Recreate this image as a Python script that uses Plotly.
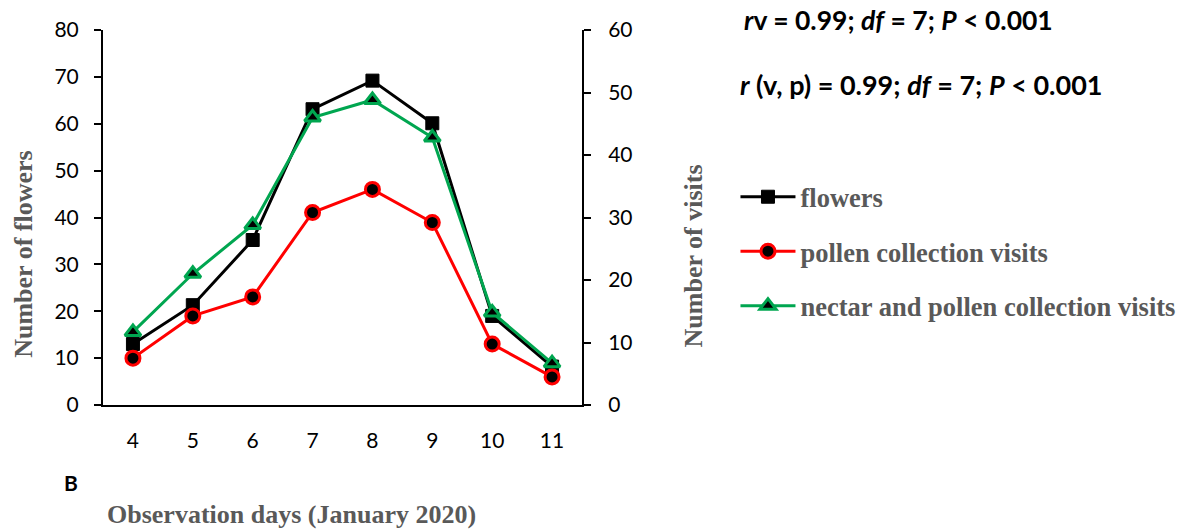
import plotly.graph_objects as go

days = [4, 5, 6, 7, 8, 9, 10, 11]
flowers = [13, 21.3, 35.2, 63.1, 69.2, 60.1, 19, 8.2]
pollen_visits = [7.5, 14.25, 17.3, 30.8, 34.5, 29.2, 9.75, 4.5]
nectar_pollen_visits = [11.7, 21, 28.8, 46, 48.8, 42.8, 14.8, 6.7]

W, H = 1193, 531
PLOT_L, PLOT_R, PLOT_T, PLOT_B = 103, 593, 30, 405
L, T, R, B = PLOT_L, PLOT_T, W - PLOT_R, H - PLOT_B
PW, PH = PLOT_R - PLOT_L, PLOT_B - PLOT_T


def px(x):
    return (x - PLOT_L) / PW


def py(y):
    return (PLOT_B - y) / PH


GREEN = "#00A650"
GREY = "#595959"
SERIF = "Liberation Serif"
SANS = "Lato"

fig = go.Figure()
fig.add_trace(go.Scatter(
    x=days, y=flowers, name="flowers", mode="lines+markers",
    line=dict(color="black", width=3),
    marker=dict(symbol="square", size=13, color="black", line=dict(color="black", width=1)),
    legendgroup="a"))
fig.add_trace(go.Scatter(
    x=days, y=pollen_visits, name="pollen collection visits", mode="lines+markers", yaxis="y2",
    line=dict(color="red", width=3),
    marker=dict(symbol="circle", size=14, color="black", line=dict(color="red", width=3)),
    legendgroup="b"))
fig.add_trace(go.Scatter(
    x=days, y=nectar_pollen_visits, name="nectar and pollen collection visits", mode="lines+markers",
    yaxis="y2",
    line=dict(color=GREEN, width=3),
    marker=dict(symbol="triangle-up", size=14, color="black", line=dict(color=GREEN, width=3)),
    legendgroup="c"))

tickfont = dict(family=SANS, size=21, color="black")
fig.update_layout(
    width=W, height=H,
    margin=dict(l=L, r=R, t=T, b=B),
    plot_bgcolor="white", paper_bgcolor="white",
    showlegend=True,
    legend=dict(x=px(750), y=py(173), xanchor="left", yanchor="top",
                font=dict(family=SERIF, size=26.5, color=GREY, weight="bold"),
                tracegroupgap=17, traceorder="grouped", itemwidth=55,
                bgcolor="rgba(0,0,0,0)"),
    xaxis=dict(range=[3.5, 11.5], tickvals=days, showgrid=False, zeroline=False,
               showline=True, linecolor="black", linewidth=2, ticks="",
               tickfont=tickfont, ticklabelstandoff=16),
    yaxis=dict(range=[0, 80], tickvals=list(range(0, 81, 10)), showgrid=False, zeroline=False,
               showline=True, linecolor="black", linewidth=2, ticks="outside", ticklen=7,
               tickwidth=2, tickcolor="black", tickfont=tickfont, ticklabelstandoff=11),
    yaxis2=dict(range=[0, 60], tickvals=list(range(0, 61, 10)), overlaying="y", side="right",
                showgrid=False, zeroline=False, showline=True, linecolor="black", linewidth=2,
                ticks="outside", ticklen=7, tickwidth=2, tickcolor="black", tickfont=tickfont,
                ticklabelstandoff=13),
)

ann = [
    dict(text="<b>Number of flowers</b>", x=px(22), y=py(254), textangle=-90,
         font=dict(family=SERIF, size=26, color=GREY)),
    dict(text="<b>Number of visits</b>", x=px(707), y=py(256), textangle=-90,
         font=dict(family=SERIF, size=26, color=GREY)),
    dict(text="<b>Observation days (January 2020)</b>", x=px(296), y=py(514),
         font=dict(family=SERIF, size=26, color=GREY)),
    dict(text="<b>B</b>", x=px(70), y=py(482), font=dict(family=SANS, size=21, color="black")),
    dict(text="<b><i>r</i>v = 0.99; <i>df</i> = 7; <i>P</i> &lt; 0.001</b>", x=px(757), y=py(20),
         xanchor="left", font=dict(family=SANS, size=26.5, color="black")),
    dict(text="<b><i>r</i> (v, p) = 0.99; <i>df</i> = 7; <i>P</i> &lt; 0.001</b>", x=px(753), y=py(85),
         xanchor="left", font=dict(family=SANS, size=27, color="black")),
]
for a in ann:
    a.update(xref="paper", yref="paper", showarrow=False)
    a.setdefault("xanchor", "center")
    a.setdefault("yanchor", "middle")
fig.update_layout(annotations=ann)

fig.write_html("out.html", config={"displayModeBar": False},
               post_script="document.body.style.margin='0px';")
